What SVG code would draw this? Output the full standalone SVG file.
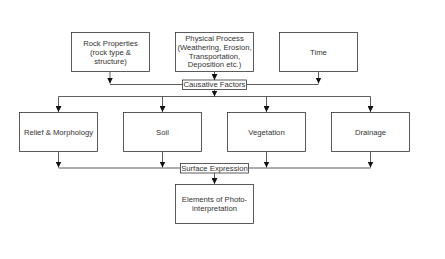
<svg xmlns="http://www.w3.org/2000/svg" width="445" height="259" viewBox="0 0 445 259">
<defs>
<style>
.box{fill:#fff;stroke:#333;stroke-width:0.8}
.lbl{fill:#fff;stroke:#333;stroke-width:0.8}
.t{font-family:"Liberation Sans",Arial,sans-serif;font-size:7.7px;fill:#333;text-anchor:middle;dominant-baseline:central}
.c{fill:none;stroke:#333;stroke-width:0.8}
</style>
<marker id="ah" viewBox="0 0 10 10" refX="10" refY="5" markerWidth="6" markerHeight="6" markerUnits="userSpaceOnUse" orient="auto">
<path d="M0,0 L10,5 L0,10 Z" fill="#111"/>
</marker>
</defs>
<rect width="445" height="259" fill="#fff"/>
<g id="connectors">
<path class="c" d="M110,71.5 V83.5" marker-end="url(#ah)"/>
<path class="c" d="M214.5,71.5 V80" marker-end="url(#ah)"/>
<path class="c" d="M318.5,71.5 V83.5" marker-end="url(#ah)"/>
<path class="c" d="M110,84.5 H182"/>
<path class="c" d="M247,84.5 H318.5"/>
<path class="c" d="M214.5,89.5 V96.5" marker-end="url(#ah)"/>
<path class="c" d="M58.5,96.5 H370.5"/>
<path class="c" d="M58.5,96.5 V112" marker-end="url(#ah)"/>
<path class="c" d="M162.5,96.5 V112" marker-end="url(#ah)"/>
<path class="c" d="M266.5,96.5 V112" marker-end="url(#ah)"/>
<path class="c" d="M370.5,96.5 V112" marker-end="url(#ah)"/>
<path class="c" d="M58.5,152 V167.5" marker-end="url(#ah)"/>
<path class="c" d="M162.5,152 V167.5" marker-end="url(#ah)"/>
<path class="c" d="M266.5,152 V167.5" marker-end="url(#ah)"/>
<path class="c" d="M370.5,152 V167.5" marker-end="url(#ah)"/>
<path class="c" d="M58.5,168 H180"/>
<path class="c" d="M248.5,168 H370.5"/>
<path class="c" d="M214.5,173 V184" marker-end="url(#ah)"/>
</g>
<g id="rock">
<rect class="box" x="71.5" y="32.5" width="78" height="39"/>
<text class="t" x="110.5" y="43.3">Rock Properties</text>
<text class="t" x="110.5" y="52.3">(rock type &amp;</text>
<text class="t" x="110.5" y="61.3">structure)</text>
</g>
<g id="physical">
<rect class="box" x="175.5" y="32.5" width="78" height="39"/>
<text class="t" x="214.5" y="38.5">Physical Process</text>
<text class="t" x="214.5" y="47.3">(Weathering, Erosion,</text>
<text class="t" x="214.5" y="56.1">Transportation,</text>
<text class="t" x="214.5" y="64.9">Deposition etc.)</text>
</g>
<g id="time">
<rect class="box" x="279.5" y="32.5" width="78" height="39"/>
<text class="t" x="318.5" y="52">Time</text>
</g>
<g id="causative">
<rect class="lbl" x="182.5" y="80" width="64" height="9.5"/>
<text class="t" x="214.5" y="84.8">Causative Factors</text>
</g>
<g id="relief">
<rect class="box" x="19.5" y="112.5" width="78" height="39"/>
<text class="t" x="58.5" y="132">Relief &amp; Morphology</text>
</g>
<g id="soil">
<rect class="box" x="123.5" y="112.5" width="78" height="39"/>
<text class="t" x="162.5" y="132">Soil</text>
</g>
<g id="vegetation">
<rect class="box" x="227.5" y="112.5" width="78" height="39"/>
<text class="t" x="266.5" y="132">Vegetation</text>
</g>
<g id="drainage">
<rect class="box" x="331.5" y="112.5" width="78" height="39"/>
<text class="t" x="370.5" y="132">Drainage</text>
</g>
<g id="surface">
<rect class="lbl" x="180.5" y="163.5" width="68" height="9.5"/>
<text class="t" x="214.5" y="168.3">Surface Expression</text>
</g>
<g id="elements">
<rect class="box" x="175.5" y="184.5" width="78" height="39"/>
<text class="t" x="214.5" y="199.3">Elements of Photo-</text>
<text class="t" x="214.5" y="208.5">interpretation</text>
</g>
</svg>
